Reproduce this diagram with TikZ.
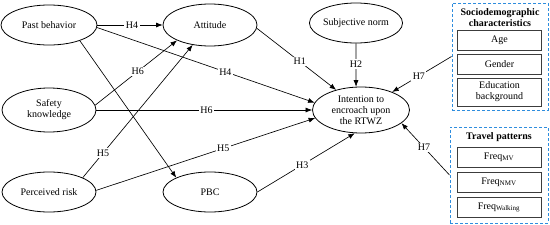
\documentclass[tikz,border=0pt]{standalone}
\usepackage{fontspec}
\setmainfont{Liberation Serif}
\usetikzlibrary{shapes.geometric,arrows.meta}
\definecolor{dashblue}{RGB}{46,141,222}
\definecolor{boxgray}{RGB}{60,60,60}
\begin{document}
\begin{tikzpicture}[x=1pt,y=-1pt,
  font=\fontsize{10}{11}\selectfont,
  ell/.style={draw,ellipse,line width=0.8pt,inner sep=0pt,align=center},
  arr/.style={draw,line width=0.65pt,-{Latex[length=6.5pt,width=5pt]}},
  lab/.style={fill=white,inner sep=1.5pt},
  grp/.style={draw=dashblue,dash pattern=on 3pt off 2pt,line width=1pt,inner sep=0pt},
  item/.style={draw=boxgray,line width=1pt,inner sep=0pt,minimum width=84pt,align=center},
  ttl/.style={font=\fontsize{10}{11}\selectfont\bfseries,inner sep=0pt,align=center}]
\useasboundingbox (0,0) rectangle (550,225);
% ellipses
\node[ell,minimum width=96pt,minimum height=40pt] (pb) at (49,25) {Past behavior};
\node[ell,minimum width=94pt,minimum height=42pt] (att) at (210,25) {Attitude};
\node[ell,minimum width=92pt,minimum height=40pt] (sn) at (356,23) {Subjective norm};
\node[ell,minimum width=94pt,minimum height=44pt] (sk) at (49,110) {Safety\\knowledge};
\node[ell,minimum width=94pt,minimum height=40pt] (pr) at (49,192) {Perceived risk};
\node[ell,minimum width=94pt,minimum height=40pt] (pbc) at (210,192) {PBC};
\node[ell,minimum width=97pt,minimum height=46pt] (int) at (361,110) {Intention to\\encroach upon\\the RTWZ};
% groups
\node[grp,minimum width=96pt,minimum height=107pt] (socio) at (500,56.5) {};
\node[ttl] (sociot) at (500,18) {Sociodemographic\\characteristics};
\node[item,minimum height=20pt] (age) at (499.5,40) {Age};
\node[item,minimum height=20pt] (gen) at (499.5,64) {Gender};
\node[item,minimum height=28pt] (edu) at (499.5,92) {Education\\background};
\node[grp,minimum width=98pt,minimum height=96pt] (trav) at (499,175) {};
\node[ttl] (travt) at (499,137) {Travel patterns};
\node[item,minimum height=20pt] (mv) at (499,157) {Freq\textsubscript{MV}};
\node[item,minimum height=20pt] (nmv) at (499,182) {Freq\textsubscript{NMV}};
\node[item,minimum height=20pt] (walk) at (499,207.5) {Freq\textsubscript{Walking}};
% connectors
\draw[arr] (pb.east) -- node[lab,pos=0.53] {H4} (att.west);
\draw[arr] (pb.-3) -- node[lab,pos=0.59] {H4} (int.171);
\draw[arr] (pb.-27) -- (pbc.157);
\draw[arr] (sk.6) -- node[lab,pos=0.52] {H6} (att.205);
\draw[arr] (sk.east) -- node[lab,pos=0.51] {H6} (int.west);
\draw[arr] (pr.23) -- node[lab,pos=0.185] {H5} (att.229);
\draw[arr] (pr.2) -- node[lab,pos=0.58] {H5} (int.190);
\draw[arr] (att.-4) -- node[lab,pos=0.54] {H1} (int.141);
\draw[arr] (sn.south) -- node[lab,pos=0.47] {H2} (int.102);
\draw[arr] (pbc.0) -- node[lab,pos=0.46] {H3} (int.255);
\draw[arr] (socio.west) -- node[lab,pos=0.55] {H7} (int.30);
\draw[arr] (trav.west) -- node[lab,pos=0.53] {H7} (int.-18);
\end{tikzpicture}
\end{document}
